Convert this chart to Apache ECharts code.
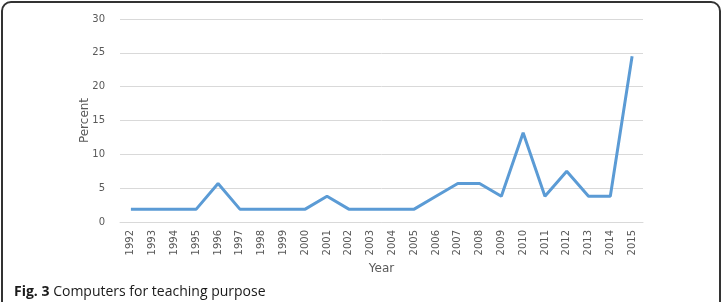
<!DOCTYPE html>
<html><head><meta charset="utf-8">
<script src="https://cdn.jsdelivr.net/npm/echarts@6/dist/echarts.min.js"></script>
<style>
html,body{margin:0;padding:0;background:#fff;overflow:hidden}
#frame{position:absolute;left:1px;top:1px;width:720px;height:320px;border:2px solid #333;border-radius:10px;box-sizing:border-box}
#chart{position:absolute;left:0;top:0;width:725px;height:302px}
#cap{position:absolute;left:14px;top:281px;font-family:"Open Sans",sans-serif;font-size:14px;color:#1a1a1a;white-space:nowrap}
</style></head><body>
<div id="frame"></div>
<div id="chart"></div>
<div id="cap"><b>Fig. 3</b> Computers for teaching purpose</div>
<script>
const years = ['1992','1993','1994','1995','1996','1997','1998','1999','2000','2001','2002','2003','2004','2005','2006','2007','2008','2009','2010','2011','2012','2013','2014','2015'];
const percent = [1.9,1.9,1.9,1.9,5.7,1.9,1.9,1.9,1.9,3.8,1.9,1.9,1.9,1.9,3.8,5.7,5.7,3.8,13.2,3.8,7.5,3.8,3.8,24.5];
const yTicks = [0,5,10,15,20,25,30];

const chart = echarts.init(document.getElementById('chart'), null, {renderer:'canvas'});
const font = 'DejaVu Sans';
chart.setOption({
  animation:false,
  grid:{left:120,right:82,top:19,bottom:80},
  xAxis:{
    type:'category', data:years, boundaryGap:true,
    name:'Year', nameLocation:'middle', nameGap:41, nameMoveOverlap:false,
    nameTextStyle:{fontFamily:font,fontSize:12,color:'#595959'},
    axisLine:{lineStyle:{color:'#d9d9d9',width:1}},
    axisTick:{show:false},
    axisLabel:{rotate:90,interval:0,fontFamily:font,fontSize:10,color:'#595959',margin:8}
  },
  yAxis:{
    type:'value', min:yTicks[0], max:yTicks[yTicks.length-1], interval:5,
    name:'Percent', nameLocation:'middle', nameGap:29, nameRotate:90, nameMoveOverlap:false,
    nameTextStyle:{fontFamily:font,fontSize:12,color:'#595959'},
    axisLine:{show:false}, axisTick:{show:false},
    axisLabel:{fontFamily:font,fontSize:10,color:'#595959',margin:15},
    splitLine:{lineStyle:{color:'#d9d9d9',width:1}}
  },
  series:[{
    type:'line', data:percent, symbol:'none',
    lineStyle:{color:'#5b9bd5',width:3}, itemStyle:{color:'#5b9bd5'}
  }]
});
</script>
</body></html>
